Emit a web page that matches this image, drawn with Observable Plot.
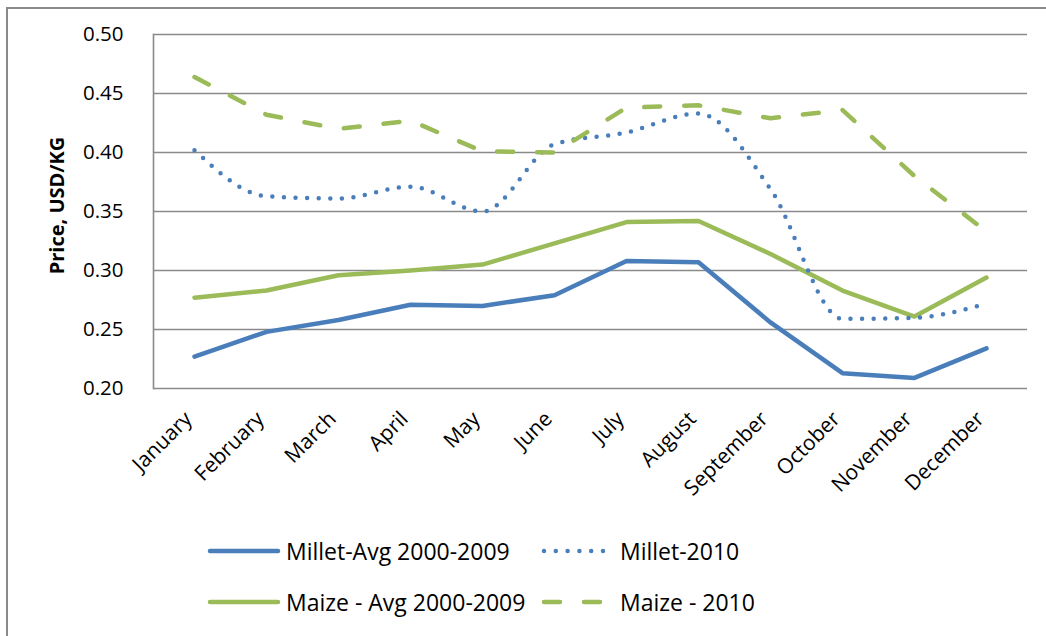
<!DOCTYPE html>
<html>
<head>
<meta charset="utf-8">
<script src="https://cdn.jsdelivr.net/npm/d3@7"></script>
<script src="https://cdn.jsdelivr.net/npm/@observablehq/plot@0.6"></script>
<style>
  html, body { margin: 0; padding: 0; background: #fff; }
  #page { position: relative; width: 1046px; height: 636px; overflow: hidden; background: #fff; font-family: "Open Sans", sans-serif; }
  #border { position: absolute; left: 6px; top: 7px; width: 2000px; height: 2000px; border-left: 2px solid #8a8a8a; border-top: 2px solid #8a8a8a; }
  #chart { position: absolute; left: 0; top: 0; }
  .leg { position: absolute; display: flex; align-items: center; font-size: 23px; color: #000; white-space: nowrap; }
  .leg svg { display: block; }
</style>
</head>
<body>
<div id="page">
  <div id="border"></div>
  <div id="chart"></div>
  <div id="legend"></div>
</div>
<script>
const months = ["January","February","March","April","May","June","July","August","September","October","November","December"];
const milletAvg  = [0.227,0.248,0.258,0.271,0.270,0.279,0.308,0.307,0.256,0.213,0.209,0.234];
const millet2010 = [0.402,0.363,0.361,0.371,0.350,0.407,0.417,0.433,0.369,0.259,0.260,0.272];
const maizeAvg   = [0.277,0.283,0.296,0.300,0.305,0.323,0.341,0.342,0.314,0.283,0.261,0.294];
const maize2010  = [0.464,0.432,0.420,0.427,0.401,0.400,0.438,0.440,0.429,0.436,0.380,0.333];
const yTicks = [0.20,0.25,0.30,0.35,0.40,0.45,0.50];
const seriesNames = ["Millet-Avg 2000-2009","Millet-2010","Maize - Avg 2000-2009","Maize - 2010"];
const yLabel = "Price, USD/KG";

const BLUE = "#4a7ebb", GREEN = "#9bbb59", GRID = "#8a8a8a";

const rows = (vals) => months.map((m, i) => ({month: m, value: vals[i]}));

const plot = Plot.plot({
  width: 1046,
  height: 530,
  marginLeft: 153,
  marginRight: 19,
  marginTop: 34,
  marginBottom: 142,
  style: {fontFamily: "'Open Sans', sans-serif", fontSize: "20px", color: "#000", background: "transparent", overflow: "visible"},
  x: {type: "point", domain: months, padding: 0.5, axis: null},
  y: {domain: [0.2, 0.5], axis: null},
  marks: [
    Plot.gridY(yTicks, {stroke: GRID, strokeOpacity: 1, strokeWidth: 1.6}),
    Plot.frame({anchor: "left", stroke: GRID, strokeWidth: 1.6}),
    Plot.axisY(yTicks, {tickSize: 0, tickPadding: 30, tickFormat: d3.format(".2f"), fontSize: 20.5, label: null}),
    Plot.text([yLabel], {frameAnchor: "left", dx: -96, dy: -6, rotate: -90, textAnchor: "middle", lineAnchor: "middle", fontWeight: "bold", fontSize: 20}),
    Plot.text(months, {x: d => d, frameAnchor: "bottom", rotate: -45, textAnchor: "end", lineAnchor: "middle", dx: -6, dy: 27, fontSize: 21}),
    Plot.line(rows(maizeAvg), {x: "month", y: "value", stroke: GREEN, strokeWidth: 4.5, strokeLinejoin: "round", strokeLinecap: "round"}),
    Plot.line(rows(milletAvg), {x: "month", y: "value", stroke: BLUE, strokeWidth: 4.5, strokeLinejoin: "round", strokeLinecap: "round"}),
    Plot.line(rows(millet2010), {x: "month", y: "value", stroke: BLUE, strokeWidth: 4.5, curve: "monotone-x", strokeDasharray: "0,11.6", strokeLinecap: "round"}),
    Plot.line(rows(maize2010), {x: "month", y: "value", stroke: GREEN, strokeWidth: 4.5, strokeDasharray: "16,24", strokeLinecap: "round", strokeLinejoin: "round"})
  ]
});
document.getElementById("chart").appendChild(plot);

// legend
const legendItems = [
  {name: seriesNames[0], color: BLUE, dash: null, left: 207, top: 551},
  {name: seriesNames[1], color: BLUE, dash: "0,11.8", left: 541, top: 551},
  {name: seriesNames[2], color: GREEN, dash: null, left: 207, top: 602},
  {name: seriesNames[3], color: GREEN, dash: "16,24", left: 541, top: 602}
];
const legend = document.getElementById("legend");
for (const it of legendItems) {
  const div = document.createElement("div");
  div.className = "leg";
  div.style.left = it.left + "px";
  div.style.top = (it.top - 18) + "px";
  div.style.height = "36px";
  const w = it.dash ? 66 : 74;
  const gap = it.dash ? 13 : 5;
  const x1 = 3, x2 = w - 3;
  div.innerHTML = `<svg width="${w}" height="10"><line x1="${x1}" y1="5" x2="${x2}" y2="5" stroke="${it.color}" stroke-width="4.5" stroke-linecap="round" ${it.dash ? `stroke-dasharray="${it.dash}"` : ""}/></svg><span style="margin-left:${gap}px">${it.name}</span>`;
  legend.appendChild(div);
}
</script>
</body>
</html>
